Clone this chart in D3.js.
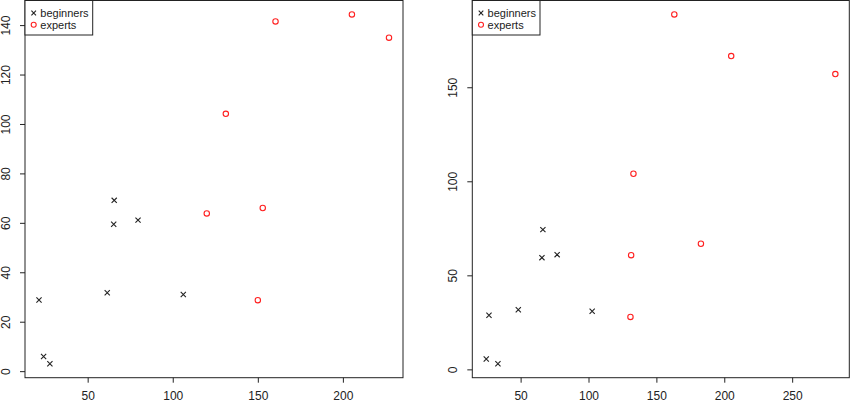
<!DOCTYPE html>
<html>
<head>
<meta charset="utf-8">
<script src="https://cdn.jsdelivr.net/npm/d3@7"></script>
<style>
  body { margin: 0; background: #fff; }
  svg { display: block; font-family: "Liberation Sans", Arial, sans-serif; }
</style>
</head>
<body>
<div id="chart"></div>
<script>
// left panel data
var leftBegX = [21.4, 24.1, 27.8, 61.5, 65.3, 65.6, 79.6, 106.2];
var leftBegY = [28.8, 5.9, 3.0, 31.7, 59.4, 69.1, 61.1, 31.0];
var leftExpX = [120.0, 131.2, 150.0, 152.9, 160.4, 205.3, 227.1];
var leftExpY = [63.8, 104.1, 28.7, 66.0, 141.5, 144.3, 134.9];
var leftXTicks = [50, 100, 150, 200];
var leftYTicks = [0, 20, 40, 60, 80, 100, 120, 140];

// right panel data
var rightBegX = [24.7, 26.7, 33.3, 48.3, 65.7, 66.4, 76.9, 102.7];
var rightBegY = [5.5, 28.8, 3.0, 31.7, 59.4, 74.3, 61.0, 30.9];
var rightExpX = [130.9, 131.4, 133.1, 163.2, 182.8, 205.1, 281.8];
var rightExpY = [27.9, 60.7, 104.0, 188.7, 66.8, 166.6, 157.0];
var rightXTicks = [50, 100, 150, 200, 250];
var rightYTicks = [0, 50, 100, 150];

var legendLabels = ["beginners", "experts"];

var width = 850, height = 404;

var svg = d3.select("#chart")
            .append("svg")
            .attr("width", width)
            .attr("height", height);

// R style axis range: data extent padded by 4%
function pad(ext) {
  var r = ext[1] - ext[0];
  return [ext[0] - r * 0.04, ext[1] + r * 0.04];
}

function drawPanel(p) {
  var allX = p.begX.concat(p.expX);
  var allY = p.begY.concat(p.expY);

  var xScale = d3.scaleLinear()
                 .domain(pad(d3.extent(allX)))
                 .range([p.left, p.right]);

  var yScale = d3.scaleLinear()
                 .domain(pad(d3.extent(allY)))
                 .range([p.bottom, p.top]);

  var g = svg.append("g");

  // x axis
  var xAxis = g.append("g")
     .attr("transform", "translate(0," + p.bottom + ")")
     .call(d3.axisBottom(xScale).tickValues(p.xTicks).tickSize(5).tickSizeOuter(0));
  xAxis.select(".domain").remove();
  xAxis.selectAll("line").attr("stroke", "#222");
  xAxis.selectAll("text")
       .attr("y", 22.3).attr("dy", null)
       .attr("fill", "#222")
       .style("font-size", "12px")
       .style("font-family", "Liberation Sans, Arial, sans-serif");

  // y axis
  var yAxis = g.append("g")
     .attr("transform", "translate(" + p.left + ",0)")
     .call(d3.axisLeft(yScale).tickValues(p.yTicks).tickSize(5).tickSizeOuter(0));
  yAxis.select(".domain").remove();
  yAxis.selectAll("line").attr("stroke", "#222");
  yAxis.selectAll("text")
       .attr("x", null).attr("dy", null)
       .attr("text-anchor", "middle")
       .attr("transform", "translate(-15,0) rotate(-90)")
       .attr("fill", "#222")
       .style("font-size", "12px")
       .style("font-family", "Liberation Sans, Arial, sans-serif");

  // plot box
  g.append("rect")
   .attr("x", p.left)
   .attr("y", p.top)
   .attr("width", p.right - p.left)
   .attr("height", p.bottom - p.top)
   .attr("fill", "none")
   .attr("stroke", "#222")
   .attr("stroke-width", 1);

  // beginners: crosses
  var s = 2.6;
  var beg = p.begX.map(function(x, i) { return {x: x, y: p.begY[i]}; });
  g.selectAll(".cross")
   .data(beg)
   .enter().append("path")
   .attr("class", "cross")
   .attr("d", function(d) {
     var cx = xScale(d.x), cy = yScale(d.y);
     return "M" + (cx - s) + "," + (cy - s) + "L" + (cx + s) + "," + (cy + s) +
            "M" + (cx - s) + "," + (cy + s) + "L" + (cx + s) + "," + (cy - s);
   })
   .attr("stroke", "#222")
   .attr("stroke-width", 1.1)
   .attr("fill", "none");

  // experts: open circles
  var exp = p.expX.map(function(x, i) { return {x: x, y: p.expY[i]}; });
  g.selectAll(".dot")
   .data(exp)
   .enter().append("circle")
   .attr("class", "dot")
   .attr("cx", function(d) { return xScale(d.x); })
   .attr("cy", function(d) { return yScale(d.y); })
   .attr("r", 2.7)
   .attr("fill", "none")
   .attr("stroke", "#ff2020")
   .attr("stroke-width", 1.1);

  // legend
  var lg = g.append("g").attr("transform", "translate(" + p.left + "," + p.top + ")");
  lg.append("rect")
    .attr("x", 0).attr("y", 0)
    .attr("width", 67.7).attr("height", 34.5)
    .attr("fill", "#fff")
    .attr("stroke", "#222");

  var ly = [12.5, 24.2];
  lg.append("path")
    .attr("d", "M" + (8.7 - 2.3) + "," + (ly[0] - 2.3) + "L" + (8.7 + 2.3) + "," + (ly[0] + 2.3) +
               "M" + (8.7 - 2.3) + "," + (ly[0] + 2.3) + "L" + (8.7 + 2.3) + "," + (ly[0] - 2.3))
    .attr("stroke", "#222").attr("stroke-width", 1.1);
  lg.append("circle")
    .attr("cx", 8.7).attr("cy", ly[1]).attr("r", 2.5)
    .attr("fill", "none").attr("stroke", "#ff2020").attr("stroke-width", 1.1);

  lg.selectAll(".ltext")
    .data(legendLabels)
    .enter().append("text")
    .attr("class", "ltext")
    .attr("x", 15.3)
    .attr("y", function(d, i) { return ly[i] + 3.9; })
    .attr("fill", "#222")
    .style("font-size", "11px")
    .text(function(d) { return d; });
}

drawPanel({
  begX: leftBegX, begY: leftBegY, expX: leftExpX, expY: leftExpY,
  xTicks: leftXTicks, yTicks: leftYTicks,
  left: 25, right: 403, top: 0.5, bottom: 377.7
});

drawPanel({
  begX: rightBegX, begY: rightBegY, expX: rightExpX, expY: rightExpY,
  xTicks: rightXTicks, yTicks: rightYTicks,
  left: 472.3, right: 849.3, top: 0.5, bottom: 377.7
});
</script>
</body>
</html>
